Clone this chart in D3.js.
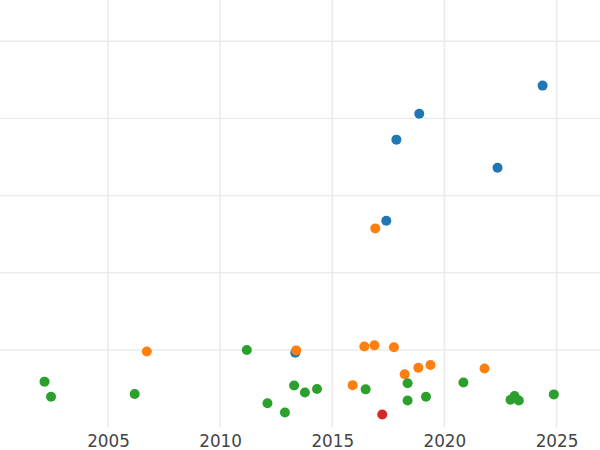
<!DOCTYPE html>
<html>
<head>
<meta charset="utf-8">
<script src="https://cdn.jsdelivr.net/npm/d3@7"></script>
<style>
  html, body { margin: 0; padding: 0; background: #fff; }
  svg { display: block; }
</style>
</head>
<body>
<svg id="chart" width="600" height="450"></svg>
<script>
// ---- data ----
const xTicks = [2005, 2010, 2015, 2020, 2025];
const yGrid = [20, 40, 60, 80, 100];

const blueYears  = [2024.38, 2018.88, 2017.86, 2022.37, 2017.41, 2013.35];
const blueValues = [88.5, 81.2, 74.5, 67.2, 53.5, 19.3];

const orangeYears  = [2016.92, 2006.73, 2013.39, 2016.43, 2016.88, 2017.75, 2018.23, 2018.84, 2019.38, 2021.79, 2015.91];
const orangeValues = [51.5, 19.6, 19.9, 20.9, 21.2, 20.7, 13.7, 15.4, 16.1, 15.2, 10.9];

const greenYears  = [2002.17, 2002.46, 2006.19, 2011.19, 2013.30, 2012.11, 2012.89, 2013.78, 2014.32, 2016.49, 2018.36, 2018.36, 2019.18, 2020.85, 2022.95, 2023.13, 2023.32, 2024.88];
const greenValues = [11.8, 7.9, 8.6, 20.0, 10.8, 6.2, 3.8, 9.0, 9.9, 9.8, 11.4, 6.9, 7.9, 11.6, 7.1, 8.1, 6.9, 8.5];

const redYears  = [2017.23];
const redValues = [3.3];

const seriesNames  = ["blue", "orange", "green", "red"];
const seriesColors = ["#1f77b4", "#ff7f0e", "#2ca02c", "#d62728"];
const seriesYears  = [blueYears, orangeYears, greenYears, redYears];
const seriesValues = [blueValues, orangeValues, greenValues, redValues];

// ---- layout ----
const svg = d3.select("#chart");
const plotBottom = 427.2;

const x = d3.scaleLinear()
  .domain([2005, 2025])
  .range([108, 556.5]);

const y = d3.scaleLinear()
  .domain([0, 20])
  .range([plotBottom, plotBottom - 77.2]);

// gridlines
svg.append("g")
  .selectAll("line.h")
  .data(yGrid)
  .join("line")
  .attr("x1", 0).attr("x2", 600)
  .attr("y1", d => y(d)).attr("y2", d => y(d))
  .attr("stroke", "#ebebeb")
  .attr("stroke-width", 1.4);

svg.append("g")
  .selectAll("line.v")
  .data(xTicks)
  .join("line")
  .attr("x1", d => x(d)).attr("x2", d => x(d))
  .attr("y1", 0).attr("y2", plotBottom)
  .attr("stroke", "#ebebeb")
  .attr("stroke-width", 1.6);

// x axis labels
const xAxis = d3.axisBottom(x)
  .tickValues(xTicks)
  .tickFormat(d3.format("d"))
  .tickSize(0)
  .tickPadding(8);

const gx = svg.append("g")
  .attr("transform", `translate(0,${plotBottom})`)
  .call(xAxis);
gx.select(".domain").remove();
gx.selectAll("text")
  .attr("fill", "#444")
  .style("font-family", "DejaVu Sans, sans-serif")
  .style("font-size", "16.8px");

// points
seriesNames.forEach((name, i) => {
  const pts = seriesYears[i].map((yr, j) => ({ yr, v: seriesValues[i][j] }));
  svg.append("g")
    .attr("class", name)
    .selectAll("circle")
    .data(pts)
    .join("circle")
    .attr("cx", d => x(d.yr))
    .attr("cy", d => y(d.v))
    .attr("r", 5)
    .attr("fill", seriesColors[i]);
});
</script>
</body>
</html>
